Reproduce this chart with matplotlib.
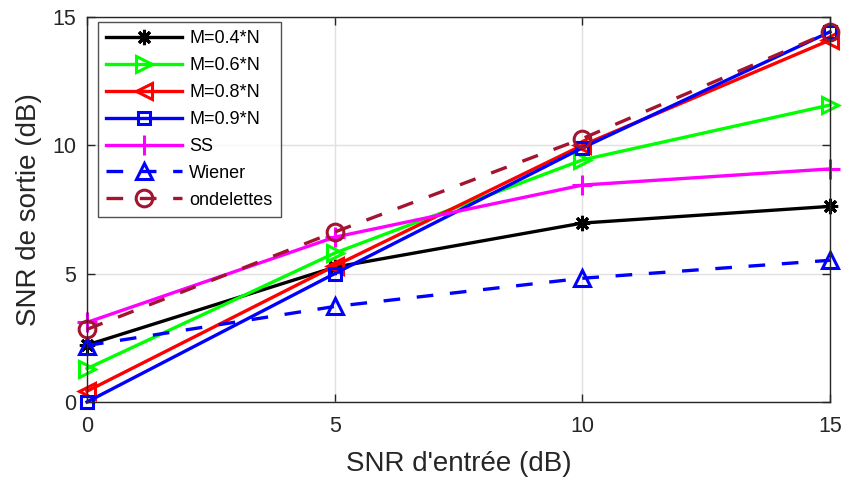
import numpy as np
import matplotlib.pyplot as plt

plt.rcParams['font.family'] = ['Liberation Sans', 'DejaVu Sans']

snr_in = [0, 5, 10, 15]
m04 = [2.22, 5.25, 6.97, 7.62]
m06 = [1.3, 5.8, 9.43, 11.57]
m08 = [0.42, 5.3, 10.0, 14.1]
m09 = [0.0, 5.0, 9.9, 14.42]
ss = [3.1, 6.42, 8.45, 9.08]
wiener = [2.2, 3.72, 4.82, 5.52]
ondelettes = [2.83, 6.62, 10.26, 14.42]

fig = plt.figure(figsize=(8.47, 4.79), dpi=100)
ax = fig.add_axes([0.1027, 0.1608, 0.8772, 0.8038])

kw = dict(lw=2.4, ms=12, mew=2.2, mfc='none', clip_on=False)
ax.plot(snr_in, m04, color='k', marker=(8, 2, 0), label='M=0.4*N',
        lw=2.4, ms=11, mew=2.2, clip_on=False)
ax.plot(snr_in, m06, color='#00ff00', marker='>', label='M=0.6*N', **kw)
ax.plot(snr_in, m08, color='#ff0000', marker='<', label='M=0.8*N', **kw)
ax.plot(snr_in, m09, color='#0000ff', marker='s', label='M=0.9*N',
        lw=2.4, ms=9, mew=2.2, mfc='none', clip_on=False)
ax.plot(snr_in, ss, color='#ff00ff', marker='+', label='SS',
        lw=2.4, ms=15, mew=2.2, clip_on=False)
ax.plot(snr_in, wiener, color='#0000ff', marker='^', ls=(0, (5, 5)),
        label='Wiener', **kw)
ax.plot(snr_in, ondelettes, color='#a2142f', marker='o', ls=(0, (5, 5)),
        label='ondelettes', **kw)

ax.set_xlim(0, 15)
ax.set_ylim(0, 15)
ax.set_xticks([0, 5, 10, 15])
ax.set_yticks([0, 5, 10, 15])
ax.grid(True, color='#e0e0e0', lw=1)
ax.set_axisbelow(True)
ax.tick_params(direction='in', top=True, right=True, labelsize=15.5,
               length=6, width=1, colors='#262626', pad=8)
ax.tick_params(axis='x', pad=10)
for s in ax.spines.values():
    s.set_color('#262626')
    s.set_linewidth(1)
ax.set_xlabel("SNR d'entrée (dB)", fontsize=20, color='#262626', labelpad=10)
ax.set_ylabel('SNR de sortie (dB)', fontsize=20, color='#262626', labelpad=7)

leg = ax.legend(loc='upper left', bbox_to_anchor=(98 / 847, 1 - 22 / 479),
                bbox_transform=fig.transFigure, borderaxespad=0,
                fontsize=13, frameon=True, fancybox=False,
                edgecolor='#262626', handlelength=4.2, labelspacing=0.55,
                handletextpad=0.4, borderpad=0.45)
leg.get_frame().set_linewidth(1)

fig.savefig('out.png', dpi=100)
